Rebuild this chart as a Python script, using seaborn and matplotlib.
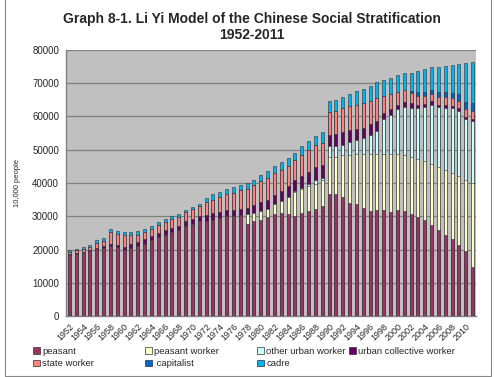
import numpy as np
import pandas as pd
import matplotlib
matplotlib.use("Agg")
import matplotlib.pyplot as plt
import matplotlib.patches as mpatches
import seaborn as sns

years = list(range(1952, 2012))

# values in 10,000 people (bottom to top of each bar)
peasant = [18300, 18600, 19100, 19500, 20300, 20500, 21000, 20700, 20000, 20600,
           21100, 21800, 22800, 23700, 24500, 25200, 25800, 27100, 27700, 28600,
           28600, 29000, 29600, 30000, 30000, 30300, 27800, 28600, 29000, 29700,
           30800, 31100, 30600, 30000, 31100, 31500, 32100, 33000, 36800, 36600,
           35800, 34000, 33800, 32400, 31500, 31800, 31800, 31300, 32000, 31600,
           30800, 29800, 29000, 27300, 25800, 24500, 23100, 21500, 19500, 14800]
peasant_worker = [0] * 26 + [
           2800, 2400, 2600, 2600, 2800, 3500, 5200, 7200, 7200, 7500,
           7700, 7800, 11000, 11200, 12500, 14500, 15000, 16400, 17300, 17000,
           17000, 17500, 16800, 16700, 17000, 17500, 17600, 18500, 19000, 19500,
           19900, 20500, 21500, 25200]
other_urban = [0] * 33 + [
           300, 300, 800, 1000, 800, 3200, 3200, 3000, 3800, 4000,
           4800, 5500, 6800, 10500, 11800, 13500, 14700, 14800, 15300, 16200,
           17800, 18000, 18600, 19500, 19800, 18100, 18500]
urban_collective = [200, 200, 200, 400, 300, 600, 600, 600, 800, 1000,
           1200, 1400, 1300, 1300, 1300, 1400, 1400, 1500, 1400, 1600,
           1700, 2000, 1700, 2000, 2000, 2000, 2000, 2300, 2700, 2700,
           2700, 2900, 3200, 3300, 3400, 3500, 4000, 3700, 3500, 3800,
           4000, 3500, 3500, 3000, 3300, 3000, 1800, 1700, 1200, 1500,
           1400, 1000, 1000, 1000, 800, 900, 800, 800, 700, 600]
state_worker = [800, 1000, 900, 900, 1400, 1600, 3800, 3500, 3500, 2800,
           2200, 2100, 2200, 2400, 2500, 2600, 2700, 2700, 3100, 2900,
           4000, 4000, 4500, 4600, 5100, 5500, 5700, 6000, 6200, 6600,
           6700, 6500, 6200, 6200, 6500, 6500, 6500, 6700, 7000, 7000,
           7200, 7300, 7300, 7500, 7200, 7000, 5200, 4600, 3900, 3600,
           3000, 2700, 2500, 2200, 2400, 2300, 2200, 2200, 2500, 2700]
capitalist = [0] * 50 + [800, 1000, 1000, 1200, 1300, 1500, 1600, 2000, 2000, 2200]
cadre = [600, 500, 700, 700, 800, 800, 800, 800, 900, 800,
         1000, 1000, 900, 900, 1000, 1000, 900, 700, 700, 700,
         1300, 1600, 1500, 1500, 1700, 1600, 1700, 1700, 1800, 1900,
         2000, 2200, 2400, 2100, 2600, 2800, 2800, 3200, 3100, 3300,
         3500, 3800, 4000, 4200, 4400, 4700, 4700, 4800, 5000, 4900,
         5300, 6300, 7000, 6800, 7700, 8000, 8500, 9000, 11800, 12300]

labels = ["peasant", "peasant worker", "other urban worker", "urban collective worker",
          "state worker", " capitalist", "cadre"]
colors = ["#993366", "#FFFFCC", "#CCFFFF", "#660066", "#FF8080", "#0066CC", "#00B4F0"]

df = pd.DataFrame({
    "peasant": peasant,
    "peasant worker": peasant_worker,
    "other urban worker": other_urban,
    "urban collective worker": urban_collective,
    "state worker": state_worker,
    " capitalist": capitalist,
    "cadre": cadre,
}, index=years)
cum = df.cumsum(axis=1)

sns.set_style("white")
plt.rcParams["font.family"] = ["Liberation Sans", "DejaVu Sans"]

fig = plt.figure(figsize=(5.01, 3.77), dpi=100)
ax = fig.add_axes([66 / 501, 1 - 316 / 377, 410 / 501, 266 / 377])
ax.set_facecolor("#C0C0C0")

xcat = [str(y) for y in years]
# draw cumulative totals from the top layer down so they stack visually
for name, col in reversed(list(zip(labels, colors))):
    sns.barplot(x=xcat, y=cum[name].values, color=col, saturation=1, width=0.45,
                edgecolor="#303030", linewidth=0.4, errorbar=None, ax=ax, zorder=3)

ax.set_ylim(0, 80000)
ax.set_xlim(-0.5, 59.5)
ax.set_yticks(np.arange(0, 80001, 10000))
ax.set_yticklabels([str(v) for v in range(0, 80001, 10000)], fontsize=7)
ax.yaxis.grid(True, color="#808080", linewidth=0.9, zorder=0)
ax.set_axisbelow(True)
ax.set_xticks(range(0, 60, 2))
ax.set_xticklabels(xcat[::2], rotation=45, ha="right", va="top",
                   rotation_mode="anchor", fontsize=6.5)
ax.set_xticks(np.arange(-0.5, 60, 1), minor=True)
ax.tick_params(axis="x", which="major", length=0, pad=4)
ax.tick_params(axis="x", which="minor", length=2, color="#808080")
ax.tick_params(axis="y", length=3, color="#808080", pad=2)
ax.set_xlabel("")
ax.set_ylabel("10,000 people", fontsize=5.5, labelpad=8)
for s in ["left", "bottom"]:
    ax.spines[s].set_color("#808080")
    ax.spines[s].set_linewidth(1)
for s in ["top", "right"]:
    ax.spines[s].set_visible(False)

fig.text(0.503, 1 - 27 / 377, "Graph 8-1. Li Yi Model of the Chinese Social Stratification\n1952-2011",
         ha="center", va="center", fontsize=10, fontweight="bold", linespacing=1.15)

handles = [mpatches.Patch(facecolor=c, edgecolor="#303030", linewidth=0.5, label=l)
           for l, c in zip(labels, colors)]
# one small legend per column so the columns sit where they do in the original
columns = [[0, 4], [1, 5], [2, 6], [3]]
col_x = [33, 145, 257, 349]
for idx, x0 in zip(columns, col_x):
    fig.legend([handles[i] for i in idx], [labels[i] for i in idx],
               loc="upper left", bbox_to_anchor=(x0 / 501, 1 - 347 / 377), frameon=False,
               fontsize=6.8, handlelength=0.7, handleheight=0.7, handletextpad=0.3,
               labelspacing=0.35, borderaxespad=0, borderpad=0)

fig.patches.append(mpatches.Rectangle((5 / 501, 1 / 377), 486 / 501, 1.1, transform=fig.transFigure,
                                      fill=False, edgecolor="#888888", linewidth=0.8))

fig.savefig("out.png", dpi=100)
